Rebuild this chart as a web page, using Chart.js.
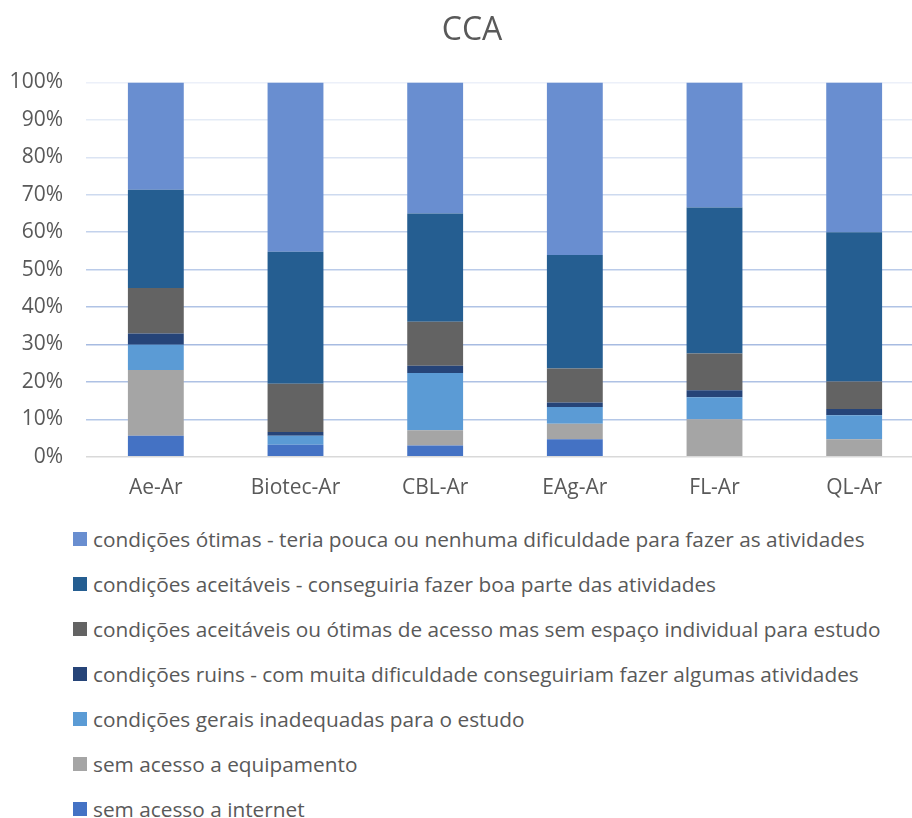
<!DOCTYPE html>
<html>
<head>
<meta charset="utf-8">
<script src="https://cdn.jsdelivr.net/npm/chart.js@4"></script>
<style>
  html, body { margin: 0; padding: 0; background: #fff; width: 912px; height: 818px; overflow: hidden; }
  #wrap { position: relative; width: 912px; height: 818px; overflow: hidden; }
  canvas { position: absolute; left: 0; top: 0; }
  #legend { position: absolute; left: 73px; top: 517px; font-family: "Open Sans", sans-serif; font-size: 20.8px; color: #595959; }
  .item { height: 44.9px; display: flex; align-items: center; white-space: nowrap; }
  .box { width: 14px; height: 14px; margin-right: 6px; flex: none; }
</style>
</head>
<body>
<div id="wrap">
  <canvas id="c" width="944" height="512"></canvas>
  <div id="legend"></div>
</div>
<script>
const categories = ["Ae-Ar", "Biotec-Ar", "CBL-Ar", "EAg-Ar", "FL-Ar", "QL-Ar"];
const yTickLabels = ["0%", "10%", "20%", "30%", "40%", "50%", "60%", "70%", "80%", "90%", "100%"];

const seriesNames = [
  "sem acesso a internet",
  "sem acesso a equipamento",
  "condições gerais inadequadas para o estudo",
  "condições ruins - com muita dificuldade conseguiriam fazer algumas atividades",
  "condições aceitáveis ou ótimas de acesso mas sem espaço individual para estudo",
  "condições aceitáveis - conseguiria fazer boa parte das atividades",
  "condições ótimas - teria pouca ou nenhuma dificuldade para fazer as atividades"
];
const seriesColors = ["#4472C4", "#A5A5A5", "#5B9BD5", "#264478", "#636363", "#255E91", "#698ED0"];

const semInternet     = [5.6, 3.2, 3.0, 4.7, 0.0, 0.0];
const semEquipamento  = [17.6, 0.0, 4.1, 4.1, 10.0, 4.7];
const gerais          = [6.7, 2.4, 15.3, 4.5, 5.9, 6.4];
const ruins           = [3.0, 1.0, 1.9, 1.2, 1.9, 1.7];
const semEspaco       = [12.2, 12.9, 11.8, 9.1, 9.8, 7.3];
const aceitaveis      = [26.2, 35.3, 28.9, 30.3, 39.0, 39.9];
const otimas          = [28.7, 45.2, 35.0, 46.1, 33.4, 40.0];

const seriesValues = [semInternet, semEquipamento, gerais, ruins, semEspaco, aceitaveis, otimas];

const gridColors = {0:"#D9D9D9",10:"#B4C7E7",20:"#AEC1E4",30:"#A7BBE1",40:"#B0C3E5",50:"#BACBE9",60:"#C3D2EC",70:"#CDDAEF",80:"#DBE4F3",90:"#E4EBF6",100:"#ECF0F9"};

const datasets = seriesNames.map((name, i) => ({
  label: name,
  data: seriesValues[i],
  backgroundColor: seriesColors[i],
  borderWidth: 0,
  barPercentage: 0.4,
  categoryPercentage: 1.0,
  yAxisID: "y"
}));

new Chart(document.getElementById("c"), {
  type: "bar",
  data: { labels: categories, datasets: datasets },
  options: {
    responsive: false,
    animation: false,
    devicePixelRatio: 1,
    layout: { padding: { left: 0, right: 0, top: 0, bottom: 0 } },
    plugins: {
      legend: { display: false },
      tooltip: { enabled: false },
      title: {
        display: true,
        text: "CCA",
        color: "#595959",
        font: { family: "Open Sans", size: 32, weight: "normal" },
        padding: { top: 12, bottom: 32 }
      }
    },
    scales: {
      x: {
        stacked: true,
        grid: { display: false },
        border: { display: false },
        ticks: { color: "#595959", font: { family: "Open Sans", size: 21 }, padding: 11 }
      },
      y: {
        stacked: true,
        min: 0,
        max: 100,
        afterFit: (s) => { s.width = 86; },
        grid: {
          drawTicks: false,
          lineWidth: 1.4,
          color: (ctx) => gridColors[ctx.tick ? ctx.tick.value : 0] || "#C5D3EC"
        },
        border: { display: false },
        ticks: {
          stepSize: 10,
          padding: 23,
          color: "#595959",
          font: { family: "Open Sans", size: 21 },
          callback: (v) => yTickLabels[Math.round(v / 10)]
        }
      },
      spacer: {
        type: "linear",
        position: "right",
        afterFit: (s) => { s.width = 20; },
        grid: { display: false, drawTicks: false },
        border: { display: false },
        ticks: { display: false }
      }
    }
  }
});

const legend = document.getElementById("legend");
for (let i = seriesNames.length - 1; i >= 0; i--) {
  const row = document.createElement("div");
  row.className = "item";
  const box = document.createElement("span");
  box.className = "box";
  box.style.background = seriesColors[i];
  const txt = document.createElement("span");
  txt.textContent = seriesNames[i];
  row.appendChild(box);
  row.appendChild(txt);
  legend.appendChild(row);
}
</script>
</body>
</html>
